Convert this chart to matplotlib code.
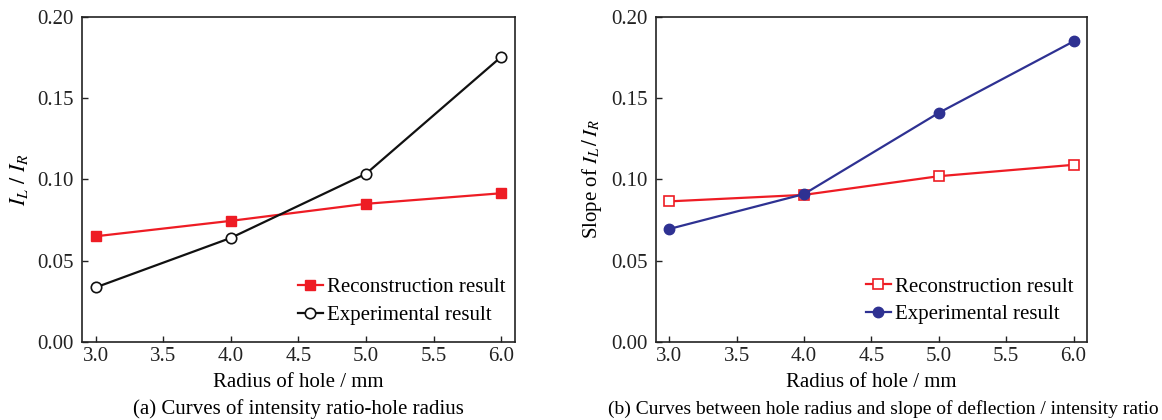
import matplotlib
matplotlib.use("Agg")
import matplotlib.pyplot as plt

radius = [3.0, 4.0, 5.0, 6.0]
ratio_recon = [0.065, 0.0745, 0.085, 0.0915]
ratio_exp = [0.0335, 0.064, 0.1035, 0.1755]
slope_recon = [0.0865, 0.0905, 0.102, 0.109]
slope_exp = [0.0695, 0.091, 0.141, 0.185]
xticks = [3.0, 3.5, 4.0, 4.5, 5.0, 5.5, 6.0]
yticks = [0.00, 0.05, 0.10, 0.15, 0.20]

plt.rcParams['font.family'] = ['Liberation Serif', 'DejaVu Serif']
plt.rcParams['mathtext.fontset'] = 'stix'
plt.rcParams['font.size'] = 15

RED = '#ee1c24'
BLUE = '#2e3192'

fig = plt.figure(figsize=(11.62, 4.2), dpi=100)
ax1 = fig.add_axes([0.0706, 0.186, 0.3724, 0.7735])
ax2 = fig.add_axes([0.5643, 0.186, 0.3712, 0.7735])

ax1.plot(radius, ratio_recon, color=RED, lw=1.6, marker='s', ms=6.5,
         mfc=RED, mec=RED, label='Reconstruction result')
ax1.plot(radius, ratio_exp, color='#111111', lw=1.6, marker='o', ms=7.5,
         mfc='white', mec='#111111', mew=1.2, label='Experimental result')
ax1.set_ylabel(r'$I_L\ /\ I_R$', labelpad=5, fontsize=16)

ax2.plot(radius, slope_recon, color=RED, lw=1.6, marker='s', ms=7,
         mfc='white', mec=RED, mew=1.2, label='Reconstruction result')
ax2.plot(radius, slope_exp, color=BLUE, lw=1.6, marker='o', ms=7.5,
         mfc=BLUE, mec=BLUE, label='Experimental result')
ax2.set_ylabel(r'Slope of $I_L\,/\,I_R$', labelpad=5, fontsize=15)

for ax, pad, yanc in ((ax1, 0.05, 0.022), (ax2, 0.25, 0.012)):
    ax.set_xlim(2.9, 6.1)
    ax.set_ylim(0.0, 0.20)
    ax.set_xticks(xticks)
    ax.set_xticklabels([f'{t:.1f}' for t in xticks])
    ax.set_yticks(yticks)
    ax.set_yticklabels([f'{t:.2f}' for t in yticks])
    ax.tick_params(direction='in', length=4, width=1, labelsize=15, colors='#222222')
    ax.tick_params(axis='y', pad=6)
    ax.tick_params(axis='x', pad=4)
    for s in ax.spines.values():
        s.set_linewidth(1.2)
        s.set_color('#222222')
    ax.set_xlabel('Radius of hole / mm', labelpad=5)
    ax.legend(loc='lower right', frameon=False, handlelength=1.2, handletextpad=0.2,
              borderaxespad=pad, labelspacing=0.4, fontsize=15, bbox_to_anchor=(1.0, yanc))

fig.text(0.2566, 0.014, '(a) Curves of intensity ratio-hole radius', ha='center', fontsize=15)
fig.text(0.7605, 0.014, '(b) Curves between hole radius and slope of deflection / intensity ratio',
         ha='center', fontsize=14)

fig.savefig('out.png', dpi=100)
